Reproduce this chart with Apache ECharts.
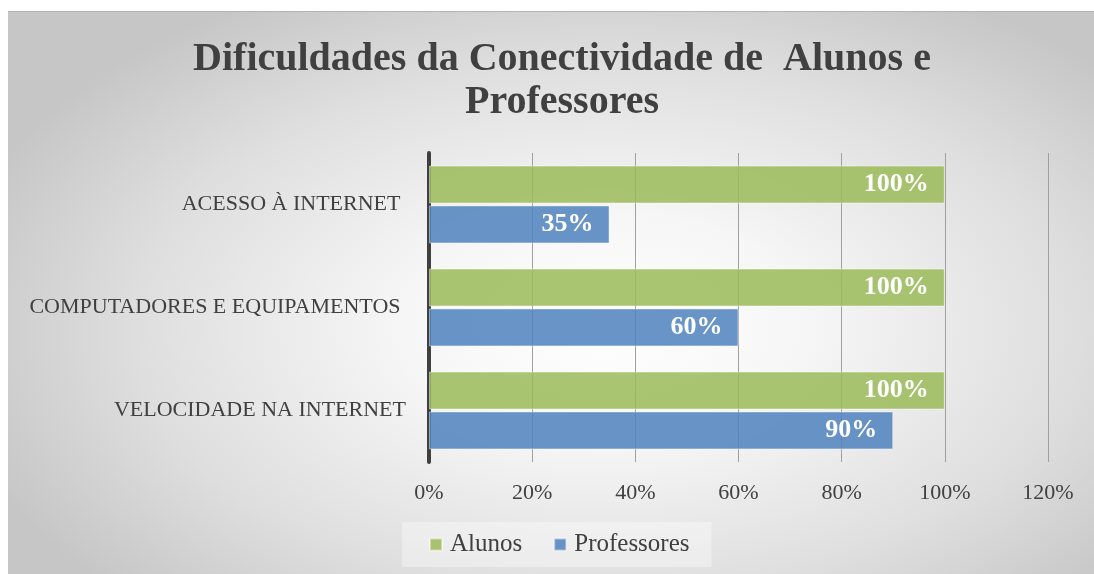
<!DOCTYPE html>
<html>
<head>
<meta charset="utf-8">
<script src="https://cdn.jsdelivr.net/npm/echarts@6/dist/echarts.min.js"></script>
<style>
	html, body { margin: 0; padding: 0; background: #fff; }
	#main {
		position: absolute; left: 8px; top: 11px; width: 1086px; height: 563px;
		border-top: 1px solid #b4b4b4;
		background: radial-gradient(ellipse 62% 68% at 55% 56%, #ffffff 0%, #f6f6f6 30%, #dedede 70%, #c6c6c6 100%);
	}
</style>
</head>
<body>
<div id="main"></div>
<script>
	// categorias (de cima para baixo) e valores
	var categorias = ['ACESSO À INTERNET ', 'COMPUTADORES E EQUIPAMENTOS ', 'VELOCIDADE NA INTERNET'];
	var alunos = [1.00, 1.00, 1.00];
	var professores = [0.35, 0.60, 0.90];
	var ticksX = [0, 0.2, 0.4, 0.6, 0.8, 1.0, 1.2];

	var fonte = '"Liberation Serif", "DejaVu Serif", serif';
	var cinza = '#404040';

	function pct(v){
		return Math.round(v * 100) + '%';
	}

	var grafico = echarts.init(document.getElementById('main'));
	grafico.setOption({
		backgroundColor: 'transparent',
		title: {
			text: 'Dificuldades da Conectividade de  Alunos e\nProfessores',
			left: 554,
			textAlign: 'center',
			top: 26,
			padding: 0,
			textStyle: {
				fontFamily: fonte,
				fontWeight: 'bold',
				fontSize: 40,
				lineHeight: 43,
				color: cinza
			}
		},
		legend: {
			data: ['Alunos', 'Professores'],
			left: 394,
			top: 510,
			padding: [10, 22, 10, 27],
			itemWidth: 12,
			itemHeight: 12,
			itemGap: 31,
			icon: 'rect',
			backgroundColor: 'rgba(255,255,255,0.35)',
			textStyle: {
				fontFamily: fonte,
				fontSize: 25,
				color: cinza,
				padding: [0, 0, 0, 3]
			}
		},
		grid: {
			left: 421,
			top: 141,
			width: 619,
			height: 309,
			containLabel: false
		},
		xAxis: {
			type: 'value',
			min: ticksX[0],
			max: ticksX[ticksX.length - 1],
			interval: 0.2,
			axisLine: { show: false },
			axisTick: { show: false },
			splitLine: { lineStyle: { color: '#a0a0a0', width: 1 } },
			axisLabel: {
				margin: 20,
				fontFamily: fonte,
				fontSize: 22,
				color: cinza,
				formatter: pct
			}
		},
		yAxis: {
			type: 'category',
			inverse: true,
			data: categorias,
			axisLine: { lineStyle: { color: cinza, width: 4 } },
			axisTick: { show: false },
			axisLabel: {
				margin: 23,
				fontFamily: fonte,
				fontSize: 22,
				color: cinza
			}
		},
		series: [
			{
				name: 'Alunos',
				type: 'bar',
				data: alunos,
				barWidth: 38,
				barGap: '5%',
				itemStyle: {
					color: 'rgba(155,187,89,0.85)',
					borderColor: 'rgba(255,255,255,0.45)',
					borderWidth: 1
				},
				label: {
					show: true,
					position: 'insideRight',
					distance: 16,
					formatter: function(p){ return pct(p.value); },
					fontFamily: fonte,
					fontWeight: 'bold',
					fontSize: 26,
					color: '#fff'
				}
			},
			{
				name: 'Professores',
				type: 'bar',
				data: professores,
				barWidth: 38,
				itemStyle: {
					color: 'rgba(79,129,189,0.85)',
					borderColor: 'rgba(255,255,255,0.45)',
					borderWidth: 1
				},
				label: {
					show: true,
					position: 'insideRight',
					distance: 16,
					formatter: function(p){ return pct(p.value); },
					fontFamily: fonte,
					fontWeight: 'bold',
					fontSize: 26,
					color: '#fff'
				}
			}
		]
	});
</script>
</body>
</html>
